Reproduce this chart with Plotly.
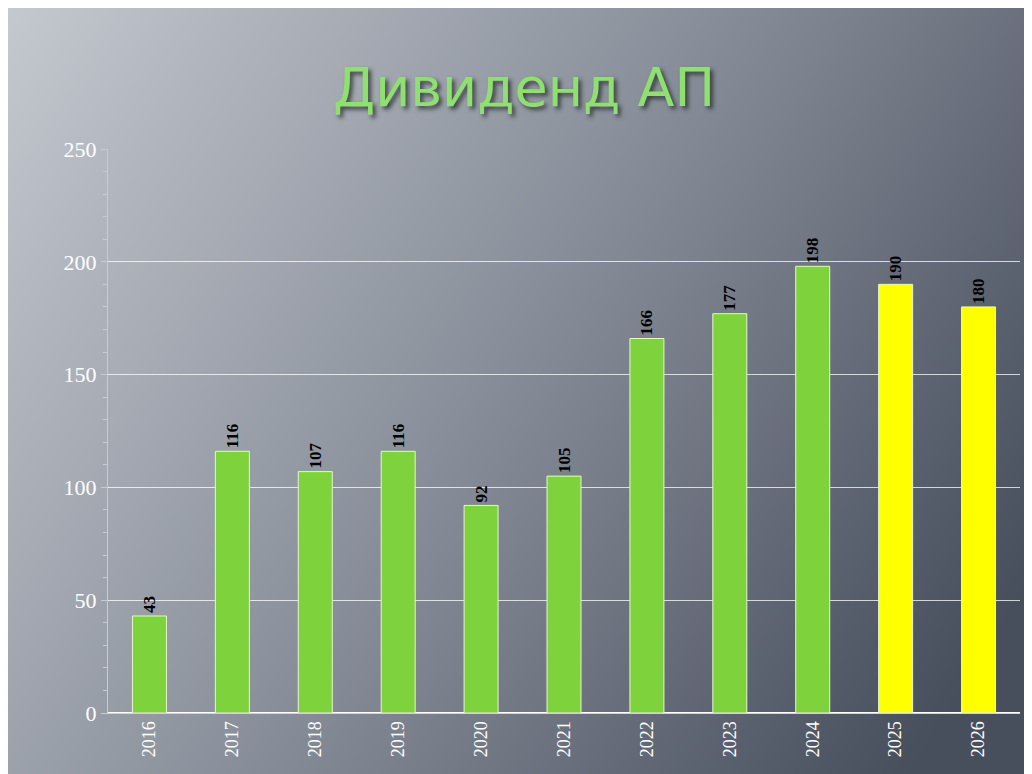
import numpy as np
import plotly.graph_objects as go

years = ["2016", "2017", "2018", "2019", "2020", "2021", "2022", "2023", "2024", "2025", "2026"]
dividend = [43, 116, 107, 116, 92, 105, 166, 177, 198, 190, 180]
bar_colors = ["#7ed23c"] * 9 + ["#ffff00"] * 2

# background gradient: light top-left, dark to the right
gx = np.linspace(0, 1, 60)
gy = np.linspace(0, 1, 45)
X, Y = np.meshgrid(gx, gy)
shade = np.clip(0.75 * X + 0.35 * (1 - Y), 0, 1)

fig = go.Figure()
fig.add_trace(go.Heatmap(
    x=gx, y=gy, z=shade, xaxis="x", yaxis="y",
    colorscale=[[0, "#c4c8cf"], [0.5, "#8a909b"], [1, "#474e5c"]],
    showscale=False, hoverinfo="skip", zsmooth="best",
))
fig.add_trace(go.Bar(
    x=years, y=dividend, xaxis="x2", yaxis="y2",
    marker=dict(color=bar_colors, line=dict(color="#e8f5d0", width=1)),
    text=[str(v) + "  " for v in dividend], textposition="outside",
    textangle=-90, cliponaxis=False,
    textfont=dict(family="Liberation Serif", size=17, color="black", weight="bold"),
))

fig.update_layout(
    width=1032, height=774,
    margin=dict(l=0, r=0, t=0, b=0, autoexpand=False),
    paper_bgcolor="#8a909b", plot_bgcolor="rgba(0,0,0,0)",
    showlegend=False, bargap=0.59,
    xaxis=dict(domain=[0, 1], range=[0, 1], visible=False, fixedrange=True),
    yaxis=dict(domain=[0, 1], range=[0, 1], visible=False, fixedrange=True),
    xaxis2=dict(domain=[100 / 1032, 1012 / 1032], anchor="y2", automargin=False,
                tickangle=-90, showgrid=False, showline=True, linecolor="#d0d4da",
                tickfont=dict(family="Liberation Serif", size=18, color="white")),
    yaxis2=dict(domain=[69 / 774, 633 / 774], anchor="x2", range=[0, 250], automargin=False,
                dtick=50, showgrid=True, gridcolor="rgba(255,255,255,0.75)", gridwidth=1,
                showline=True, linecolor="#c8ccd2", ticks="outside", ticklen=6,
                tickcolor="#c8ccd2",
                minor=dict(dtick=10, ticks="outside", ticklen=4, tickcolor="#c8ccd2"),
                tickfont=dict(family="Liberation Serif", size=22, color="white")),
    annotations=[
        dict(text="Дивиденд АП", x=0.5, y=1 - 46 / 774, xref="paper", yref="paper",
             showarrow=False,
             font=dict(family="DejaVu Sans", size=54, color="#8fe070",
                       shadow="3px 3px 4px rgba(20,30,20,0.7)")),
    ],
)

fig.write_html("out.html")
